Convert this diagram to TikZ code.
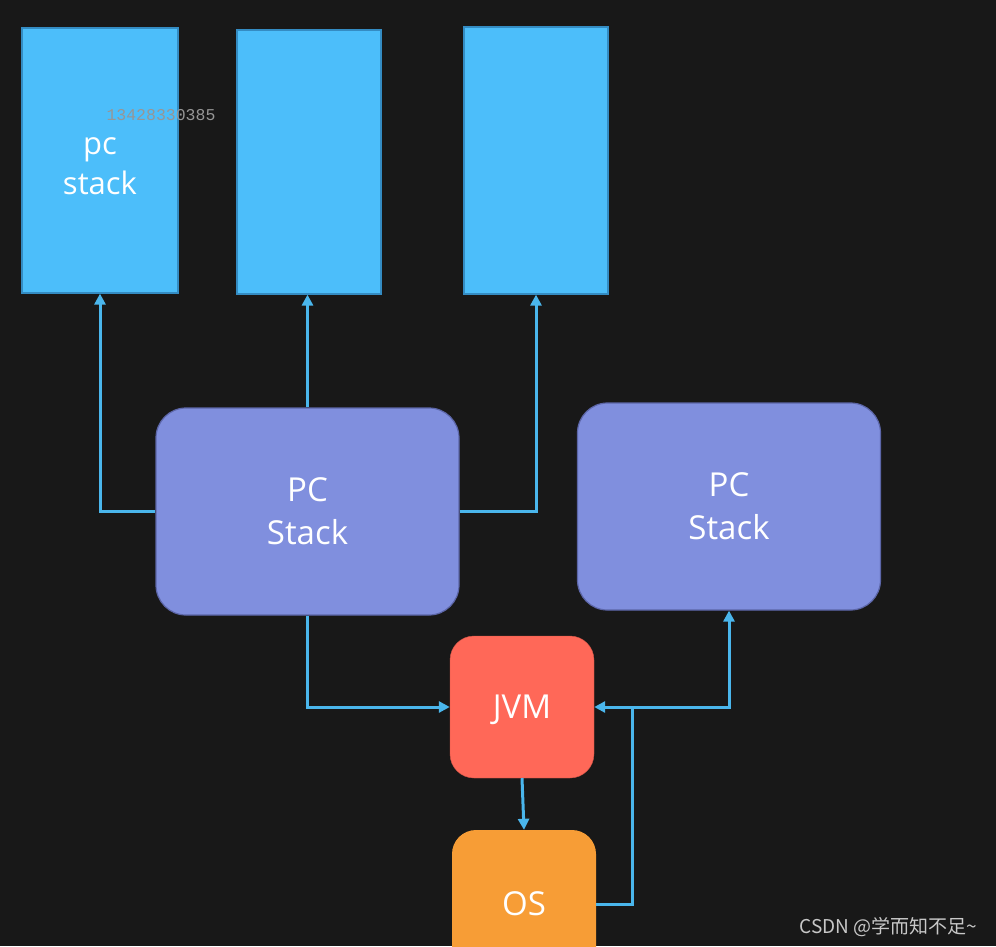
\documentclass[tikz,border=0pt]{standalone}
\usepackage{fontspec}
\setmainfont{Open Sans}
\setmonofont{Liberation Mono}
\newfontfamily\cjkfont{Noto Sans CJK SC}
\usetikzlibrary{arrows.meta}
\definecolor{board}{RGB}{24,24,24}
\definecolor{framefill}{RGB}{76,190,250}
\definecolor{frameline}{RGB}{52,140,195}
\definecolor{cardfill}{RGB}{128,143,222}
\definecolor{cardline}{RGB}{92,102,168}
\definecolor{jvmfill}{RGB}{255,104,88}
\definecolor{osfill}{RGB}{247,157,54}
\definecolor{linkblue}{RGB}{74,182,236}
\definecolor{tagdigits}{RGB}{150,150,150}
\definecolor{markgray}{RGB}{200,200,200}
\begin{document}
\begin{tikzpicture}[x=1pt,y=-1pt,
		frame/.style={draw=frameline, fill=framefill, line width=1.2pt, inner sep=0pt, text=white, align=center, font=\fontsize{31}{40}\selectfont},
		card/.style={draw=cardline, fill=cardfill, rounded corners=30pt, line width=1.2pt, inner sep=0pt, text=white, align=center, minimum width=303pt, minimum height=207pt, font=\fontsize{33}{43}\selectfont},
		core/.style={rounded corners=24pt, inner sep=0pt, text=white, text depth=0pt, minimum width=144pt, font=\fontsize{33}{40}\selectfont},
		link/.style={draw=linkblue, line width=3pt, -{Triangle[length=11pt,width=11pt]}}]
			\useasboundingbox (0,0) rectangle (996,946);
			\clip (0,0) rectangle (996,946);
			\fill[board] (0,0) rectangle (996,946);
			\node[frame, minimum width=156pt, minimum height=265pt] (stk1) at (100,160.5) {\strut pc\\stack};
			\node[frame, minimum width=144pt, minimum height=264pt] (stk2) at (309,162) {};
			\node[frame, minimum width=144pt, minimum height=267pt] (stk3) at (536,160.5) {};
			\node[text=tagdigits, font=\ttfamily\fontsize{16.5}{18}\selectfont] (tag) at (161,115) {13428330385};
			\node[card] (pc1) at (307.5,511.5) {PC\\Stack};
			\node[card] (pc2) at (729,506.5) {PC\\Stack};
			\node[core, fill=jvmfill, draw=jvmfill!80!black, minimum height=142pt] (jvm) at (522,707) {JVM};
			\node[core, fill=osfill, minimum height=148pt] (os) at (524,904) {OS};
			\coordinate (junc) at (632,707);
			\draw[link] (pc1.west) -| (stk1.south);
			\draw[link] (pc1.north) -- (pc1.north |- stk2.south);
			\draw[link] (pc1.east) -| (stk3.south);
			\draw[link] (pc1.south) |- (jvm.west);
			\draw[link] (jvm.south) -- (os.north);
			\draw[link] (os.east) -| (junc) -- (jvm.east);
			\draw[link] (junc) -| (pc2.south);
			\node[anchor=base east, text=markgray, font=\cjkfont\fontsize{19}{22}\selectfont] (mark) at (981,933) {CSDN @学而知不足\textasciitilde};
		\end{tikzpicture}
\end{document}
